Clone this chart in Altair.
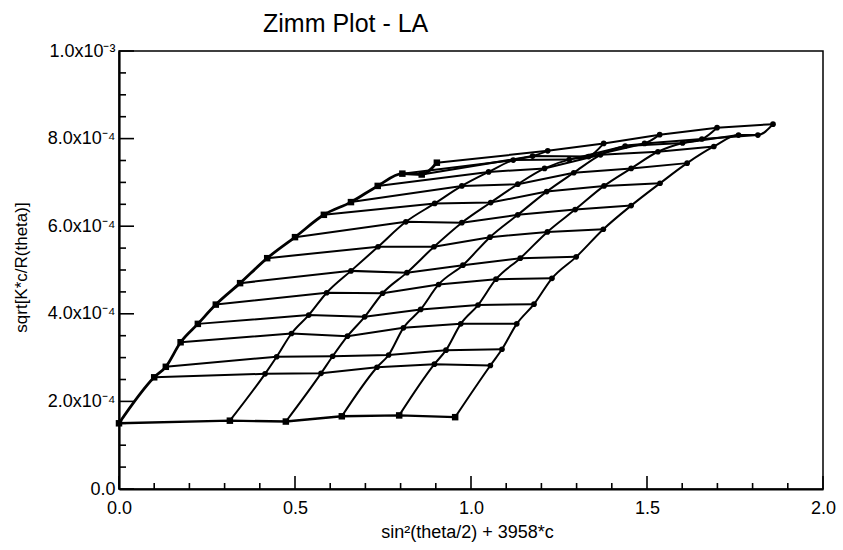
import altair as alt
import pandas as pd

# angle term sin^2(theta/2) for each angle row (row 0 = extrapolated theta=0)
s_vals = [0.0, 0.100, 0.133, 0.175, 0.224, 0.275, 0.344, 0.421, 0.500, 0.582, 0.659, 0.735, 0.805, 0.860, 0.903]
# concentration term 3958*c for each concentration column (col 0 = extrapolated c=0)
kc_vals = [0.0, 0.315, 0.474, 0.633, 0.796, 0.955]

# sqrt[K*c/R(theta)] in units of 1e-4, one list per concentration column
y_c0 = [1.50, 2.55, 2.79, 3.35, 3.77, 4.21, 4.70, 5.27, 5.75, 6.26, 6.55, 6.92, 7.20, 7.18, 7.45]
y_c1 = [1.56, 2.63, 3.02, 3.55, 3.97, 4.48, 4.98, 5.53, 6.10, 6.52, 6.92, 7.24, 7.51, 7.60, 7.72]
y_c2 = [1.54, 2.64, 3.03, 3.49, 3.93, 4.47, 4.94, 5.53, 6.08, 6.54, 6.96, 7.32, 7.52, 7.59, 7.89]
y_c3 = [1.66, 2.78, 3.06, 3.68, 4.10, 4.67, 5.11, 5.75, 6.26, 6.79, 7.22, 7.63, 7.83, 7.89, 8.09]
y_c4 = [1.68, 2.85, 3.17, 3.77, 4.20, 4.79, 5.27, 5.87, 6.38, 6.92, 7.32, 7.70, 7.90, 7.99, 8.25]
y_c5 = [1.64, 2.82, 3.19, 3.77, 4.22, 4.81, 5.30, 5.93, 6.47, 6.98, 7.44, 7.82, 8.08, 8.08, 8.33]
columns = [y_c0, y_c1, y_c2, y_c3, y_c4, y_c5]

x_major = [0.0, 0.5, 1.0, 1.5, 2.0]
x_minor = [0.1, 0.2, 0.3, 0.4, 0.6, 0.7, 0.8, 0.9, 1.1, 1.2, 1.3, 1.4, 1.6, 1.7, 1.8, 1.9]
y_major = [0.0, 2e-4, 4e-4, 6e-4, 8e-4, 1e-3]
y_minor = [0.5e-4, 1.0e-4, 1.5e-4, 2.5e-4, 3.0e-4, 3.5e-4, 4.5e-4, 5.0e-4, 5.5e-4,
           6.5e-4, 7.0e-4, 7.5e-4, 8.5e-4, 9.0e-4, 9.5e-4]

rows = []
for j, kc in enumerate(kc_vals):
    for i, s in enumerate(s_vals):
        rows.append({"x": s + kc, "y": columns[j][i] * 1e-4, "conc": j, "ang": i,
                     "kind": "extrap" if (i == 0 or j == 0) else "data"})
df = pd.DataFrame(rows)

XT = "sin²(theta/2) + 3958*c"
YT = "sqrt[K*c/R(theta)]"
FONT = "Liberation Sans"
W, H = 704, 438

xs = alt.Scale(domain=[0, 2], nice=False, zero=False)
ys = alt.Scale(domain=[0, 0.001], nice=False, zero=False)

xaxis = alt.Axis(values=x_major, format=".1f", ticks=False, grid=False, domain=True,
                 domainColor="black", domainWidth=2.2, labelFont=FONT, labelFontSize=18,
                 labelColor="black", labelPadding=10, labelFlush=False, labelOverlap=False,
                 title=XT, titleFont=FONT,
                 titleFontSize=18, titleFontWeight="normal", titleColor="black",
                 titleX=348, titleY=48, titleBaseline="alphabetic", titleAlign="center")
yaxis = alt.Axis(values=y_major, ticks=False, grid=False, domain=True,
                 domainColor="black", domainWidth=2.2, labelFont=FONT, labelFontSize=18,
                 labelColor="black", labelPadding=4, labelFlush=False, labelOverlap=False,
                 labelExpr="datum.value == 0 ? '0.0' : (datum.value > 0.00099 ? '1.0x10⁻³' : format(datum.value*1e4, '.1f') + 'x10⁻⁴')",
                 title=YT, titleFont=FONT, titleFontSize=17, titleFontWeight="normal",
                 titleColor="black", titleX=-98, titleY=216, titleBaseline="middle",
                 titleAlign="center", titleAngle=270)

base = alt.Chart(df)
X = alt.X("x:Q", scale=xs, axis=xaxis, title=XT)
Y = alt.Y("y:Q", scale=ys, axis=yaxis, title=YT)

col_lines = base.transform_filter("datum.conc > 0").mark_line(
    color="black", strokeWidth=2.0, interpolate="monotone").encode(
    x=X, y=Y, detail="conc:N", order="ang:Q")
c0_line = base.transform_filter("datum.conc == 0").mark_line(
    color="black", strokeWidth=2.8, interpolate="monotone").encode(
    x=X, y=Y, order="ang:Q")
row_lines = base.transform_filter("datum.ang > 0").mark_line(
    color="black", strokeWidth=2.0).encode(
    x=X, y=Y, detail="ang:N", order="conc:Q")
r0_line = base.transform_filter("datum.ang == 0").mark_line(
    color="black", strokeWidth=2.4).encode(
    x=X, y=Y, order="conc:Q")
dots = base.transform_filter("datum.kind == 'data'").mark_point(
    shape="circle", filled=True, size=32, color="black", opacity=1).encode(x=X, y=Y)
squares = base.transform_filter("datum.kind == 'extrap'").mark_point(
    shape="square", filled=True, size=42, color="black", opacity=1).encode(x=X, y=Y)

def xticks(vals, length):
    return alt.Chart(pd.DataFrame({"x": vals})).mark_rule(color="black", strokeWidth=1.6).encode(
        x=X, y=alt.value(H), y2=alt.value(H - length))

def yticks(vals, length):
    return alt.Chart(pd.DataFrame({"y": vals})).mark_rule(color="black", strokeWidth=1.6).encode(
        y=Y, x=alt.value(0), x2=alt.value(length))

chart = alt.layer(
    row_lines, r0_line, col_lines, c0_line, dots, squares,
    xticks(x_major, 13), xticks(x_minor, 6), yticks(y_major, 15), yticks(y_minor, 7),
).properties(
    width=W, height=H,
    title=alt.TitleParams("Zimm Plot - LA", font=FONT, fontSize=25, fontWeight="normal",
                          color="black", anchor="start", frame="group", dx=144, dy=33,
                          offset=18, baseline="alphabetic"),
    autosize=alt.AutoSizeParams(type="none"),
    padding={"left": 119, "top": 51, "right": 20, "bottom": 61},
    background="white",
).configure_view(stroke="black", strokeWidth=1.5)

chart.save("out.html", embed_options={"renderer": "svg", "actions": False})
